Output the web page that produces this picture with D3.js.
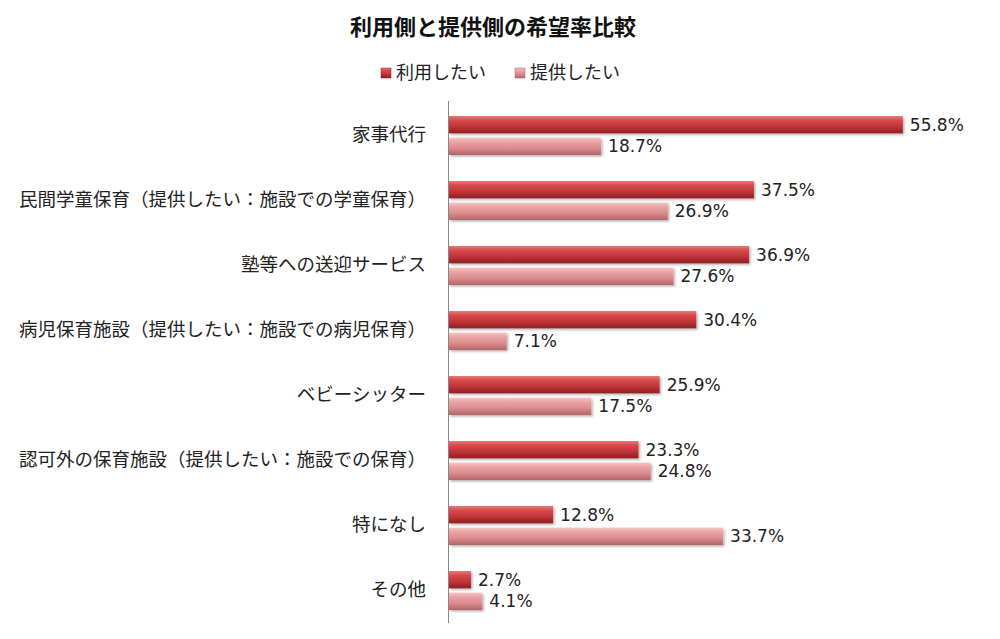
<!DOCTYPE html>
<html><head><meta charset="utf-8">
<script src="https://cdn.jsdelivr.net/npm/d3@7"></script>
<style>
body{margin:0;background:#fff;}
text{font-family:"Noto Sans CJK JP","Noto Sans",sans-serif;}
</style></head>
<body>
<svg id="chart" width="1000" height="639"></svg>
<script>
const categories = ["家事代行","民間学童保育（提供したい：施設での学童保育）","塾等への送迎サービス","病児保育施設（提供したい：施設での病児保育）","ベビーシッター","認可外の保育施設（提供したい：施設での保育）","特になし","その他"];
const seriesNames = ["利用したい","提供したい"];
const useValues = [55.8,37.5,36.9,30.4,25.9,23.3,12.8,2.7];
const offerValues = [18.7,26.9,27.6,7.1,17.5,24.8,33.7,4.1];
const title = "利用側と提供側の希望率比較";

const svg = d3.select("#chart");
const defs = svg.append("defs");
function grad(id, stops){
  const g = defs.append("linearGradient").attr("id",id).attr("x1",0).attr("y1",0).attr("x2",0).attr("y2",1);
  stops.forEach(s=>g.append("stop").attr("offset",s[0]).attr("stop-color",s[1]));
}
grad("gUse",[[0,"#e57a7a"],[0.25,"#d84a4c"],[0.6,"#c2353a"],[1,"#8e1f22"]]);
grad("gOffer",[[0,"#f5c4c4"],[0.25,"#eaa3a4"],[0.6,"#dc8c8e"],[1,"#b46567"]]);
const f = defs.append("filter").attr("id","sh").attr("x","-5%").attr("y","-20%").attr("width","115%").attr("height","160%");
f.append("feDropShadow").attr("dx",1.5).attr("dy",1.5).attr("stdDeviation",1.2).attr("flood-color","#000").attr("flood-opacity",0.3);

const x = d3.scaleLinear().domain([0,60]).range([449, 937]);
const y0 = d3.scaleBand().domain(categories).range([103,623]).paddingInner(0.4).paddingOuter(0.2);
const y1 = d3.scaleBand().domain(seriesNames).range([0,y0.bandwidth()]).paddingInner(0.2);
const fills = {"利用したい":"url(#gUse)","提供したい":"url(#gOffer)"};

svg.append("text").attr("x",493).attr("y",35).attr("text-anchor","middle")
  .attr("font-size",22).attr("font-weight","bold").attr("fill","#111").text(title);

// legend
const legX = [381, 515];
seriesNames.forEach((s,i)=>{
  svg.append("rect").attr("x",legX[i]).attr("y",68).attr("width",10).attr("height",10)
    .attr("fill",fills[s]).attr("stroke", i===0?"#8e1f22":"#b46567").attr("stroke-width",0.5);
  svg.append("text").attr("x",legX[i]+15).attr("y",79).attr("font-size",18).attr("fill","#222").text(s);
});

// axis line
svg.append("line").attr("x1",448.5).attr("x2",448.5).attr("y1",101).attr("y2",623)
  .attr("stroke","#888").attr("stroke-width",1);

const data = categories.map((c,i)=>({cat:c, vals:[{s:seriesNames[0],v:useValues[i]},{s:seriesNames[1],v:offerValues[i]}]}));
const g = svg.selectAll("g.cat").data(data).join("g").attr("class","cat")
  .attr("transform",d=>`translate(0,${y0(d.cat)})`);
g.append("text").attr("x",426).attr("y",y0.bandwidth()/2-1).attr("dy","0.35em")
  .attr("text-anchor","end").attr("font-size",18.5).attr("fill","#222").text(d=>d.cat);
g.selectAll("rect").data(d=>d.vals).join("rect")
  .attr("x",x(0)).attr("y",d=>y1(d.s)).attr("width",d=>x(d.v)-x(0)).attr("height",y1.bandwidth())
  .attr("fill",d=>fills[d.s]).attr("filter","url(#sh)");
g.selectAll("text.val").data(d=>d.vals).join("text").attr("class","val")
  .attr("x",d=>x(d.v)+7).attr("y",d=>y1(d.s)+y1.bandwidth()/2).attr("dy","0.35em")
  .attr("font-size",17).attr("fill","#222").attr("style","font-family:'DejaVu Sans',sans-serif").text(d=>d.v.toFixed(1)+"%");
</script>
</body></html>
